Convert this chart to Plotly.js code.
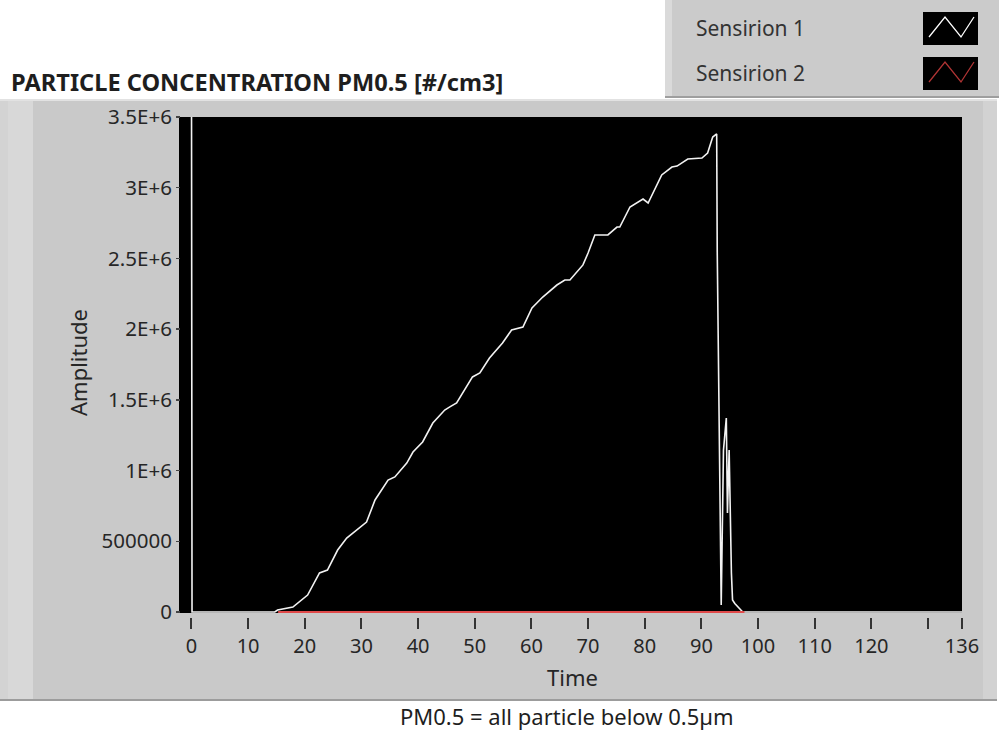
<!DOCTYPE html>
<html>
<head>
<meta charset="utf-8">
<script src="https://cdn.plot.ly/plotly-3.0.1.min.js"></script>
<style>
  html, body { margin: 0; padding: 0; background: #ffffff; }
  #chart { width: 999px; height: 734px; }
</style>
</head>
<body>
<div id="chart"></div>
<script>
// Sensirion 1 readings (time, particle concentration #/cm3)
const s1Time = [
  0, 0.1, 5, 10, 14.7, 15.2, 17.9, 20.5, 22.6, 24.0,
  25.8, 27.4, 29.7, 30.9, 32.4, 34.7, 35.9, 38.0, 39.1, 40.8,
  42.6, 44.7, 45.6, 46.8, 49.6, 50.9, 52.6, 54.9, 56.5, 58.5,
  60.1, 62.0, 64.5, 65.9, 66.8, 68.0, 69.1, 70.0, 71.2, 73.5,
  75.1, 75.6, 77.4, 79.7, 80.6, 83.0, 84.8, 85.7, 87.6, 90.1,
  91.1, 92.0, 92.7, 92.8, 93.2, 93.5, 93.9, 94.4, 94.6, 94.9,
  95.3, 95.5, 95.9, 97.3, 100, 110, 120, 130, 136
];
const s1Value = [
  4000000, 0, 0, 0, 0, 14000, 35000, 120000, 276000, 297000,
  438000, 523000, 601000, 636000, 792000, 933000, 955000, 1053000, 1131000, 1202000,
  1336000, 1428000, 1450000, 1478000, 1662000, 1690000, 1796000, 1902000, 1994000, 2015000,
  2150000, 2227000, 2312000, 2347000, 2347000, 2404000, 2454000, 2538000, 2666000, 2666000,
  2722000, 2722000, 2864000, 2920000, 2892000, 3090000, 3146000, 3153000, 3203000, 3210000,
  3245000, 3358000, 3380000, 2545000, 898000, 50000, 1145000, 1372000, 700000, 1145000,
  276000, 85000, 60000, 0, 0, 0, 0, 0, 0
];

// Sensirion 2 readings
const s2Time  = [15.3, 20, 30, 40, 50, 60, 70, 80, 90, 97.6];
const s2Value = [0, 0, 0, 0, 0, 0, 0, 0, 0, 0];

// Axis ticks
const xTickVals = [0, 10, 20, 30, 40, 50, 60, 70, 80, 90, 100, 110, 120, 130, 136];
const xTickText = ['0', '10', '20', '30', '40', '50', '60', '70', '80', '90', '100', '110', '120', '', '136'];
const yTickVals = [0, 500000, 1000000, 1500000, 2000000, 2500000, 3000000, 3500000];
const yTickText = ['0', '500000', '1E+6', '1.5E+6', '2E+6', '2.5E+6', '3E+6', '3.5E+6'];

const seriesNames = ['Sensirion 1', 'Sensirion 2'];
const seriesColors = ['#f2f2f2', '#e04a4a'];

const W = 999, H = 734;
const fx = px => px / W;
const fy = py => 1 - py / H;
const FONT = 'Noto Sans, Open Sans, sans-serif';
const TEXT = '#262626';

// panel geometry in page pixels
const plotL = 179, plotR = 962, plotT = 117, plotB = 613;

const traces = [
  { x: s1Time, y: s1Value, type: 'scatter', mode: 'lines', name: seriesNames[0],
    line: { color: seriesColors[0], width: 1.6 }, hoverinfo: 'x+y' },
  { x: s2Time, y: s2Value, type: 'scatter', mode: 'lines', name: seriesNames[1],
    line: { color: seriesColors[1], width: 1.8 }, hoverinfo: 'x+y' }
];

function rect(x0, y0, x1, y1, fill, layer) {
  return { type: 'rect', xref: 'paper', yref: 'paper', layer: layer || 'below',
    x0: fx(x0), x1: fx(x1), y0: fy(y1), y1: fy(y0),
    fillcolor: fill, line: { width: 0 } };
}
function hline(x0, x1, y, color, w) {
  return { type: 'line', xref: 'paper', yref: 'paper', layer: 'below',
    x0: fx(x0), x1: fx(x1), y0: fy(y), y1: fy(y), line: { color: color, width: w || 1 } };
}
function zigzag(x0, y0, color) {
  const pts = [[x0 + 6, y0 + 25], [x0 + 22, y0 + 5], [x0 + 38, y0 + 25], [x0 + 51, y0 + 5]];
  const d = pts.map((p, i) => (i ? 'L' : 'M') + fx(p[0]).toFixed(5) + ',' + fy(p[1]).toFixed(5)).join(' ');
  return { type: 'path', xref: 'paper', yref: 'paper', layer: 'above', path: d,
    line: { color: color, width: 1.3 } };
}

const shapes = [
  // main grey panel with bevelled edges
  rect(0, 99, 997, 701, '#c9c9c9'),
  rect(0, 99, 8, 701, '#d3d3d3'),
  rect(8, 99, 33, 701, '#d8d8d8'),
  rect(983, 99, 997, 701, '#d2d2d2'),
  hline(0, 997, 100, '#e2e2e2', 2),
  hline(0, 997, 700, '#9c9c9c', 2),
  // plotting area
  rect(plotL, plotT, plotR, plotB, '#000000'),
  // legend panel
  rect(665, 0, 999, 97, '#cbcbcb'),
  rect(665, 0, 672, 97, '#dadada'),
  hline(665, 999, 97, '#9e9e9e', 2),
  rect(923, 12, 978, 45, '#000000', 'above'),
  rect(923, 57, 978, 90, '#000000', 'above'),
  zigzag(923, 12, '#ffffff'),
  zigzag(923, 57, '#b03434')
];

const annotations = [
  { text: '<b>PARTICLE CONCENTRATION PM0.5 [#/cm3]</b>', xref: 'paper', yref: 'paper',
    x: fx(9), y: fy(82), xanchor: 'left', yanchor: 'middle', showarrow: false,
    font: { family: FONT, size: 23.6, color: '#1e1e1e' } },
  { text: seriesNames[0], xref: 'paper', yref: 'paper', x: fx(694), y: fy(28),
    xanchor: 'left', yanchor: 'middle', showarrow: false,
    font: { family: FONT, size: 21, color: '#333333' } },
  { text: seriesNames[1], xref: 'paper', yref: 'paper', x: fx(694), y: fy(73),
    xanchor: 'left', yanchor: 'middle', showarrow: false,
    font: { family: FONT, size: 21, color: '#333333' } },
  { text: 'PM0.5 = all particle below 0.5µm', xref: 'paper', yref: 'paper',
    x: fx(567), y: fy(716), xanchor: 'center', yanchor: 'middle', showarrow: false,
    font: { family: FONT, size: 22, color: '#1e1e1e' } },
  { text: 'Time', xref: 'paper', yref: 'paper', x: fx(572), y: fy(677),
    xanchor: 'center', yanchor: 'middle', showarrow: false,
    font: { family: FONT, size: 22, color: TEXT } },
  { text: 'Amplitude', xref: 'paper', yref: 'paper', x: fx(78), y: fy(363),
    xanchor: 'center', yanchor: 'middle', textangle: -90, showarrow: false,
    font: { family: FONT, size: 22, color: TEXT } }
];

const layout = {
  width: W, height: H,
  margin: { l: 0, r: 0, t: 0, b: 0 },
  paper_bgcolor: '#ffffff',
  plot_bgcolor: '#000000',
  showlegend: false,
  font: { family: FONT, size: 20, color: TEXT },
  xaxis: {
    domain: [fx(plotL), fx(plotR)],
    range: [-2.2, 136],
    anchor: 'free', position: fy(617),
    tickmode: 'array', tickvals: xTickVals, ticktext: xTickText,
    ticks: 'outside', ticklen: 11, tickwidth: 2, tickcolor: '#333333',
    showgrid: false, zeroline: false, showline: false,
    tickfont: { family: FONT, size: 20, color: TEXT },
    fixedrange: true
  },
  yaxis: {
    domain: [fy(plotB), fy(plotT)],
    range: [-7070, 3500000],
    anchor: 'free', position: fx(180),
    tickmode: 'array', tickvals: yTickVals, ticktext: yTickText,
    ticks: 'outside', ticklen: 4, tickwidth: 1.5, tickcolor: '#444444',
    showgrid: false, zeroline: false, showline: false,
    tickfont: { family: FONT, size: 20.5, color: TEXT },
    fixedrange: true
  },
  shapes: shapes,
  annotations: annotations
};

Plotly.newPlot('chart', traces, layout, { staticPlot: true, displayModeBar: false });
</script>
</body>
</html>
